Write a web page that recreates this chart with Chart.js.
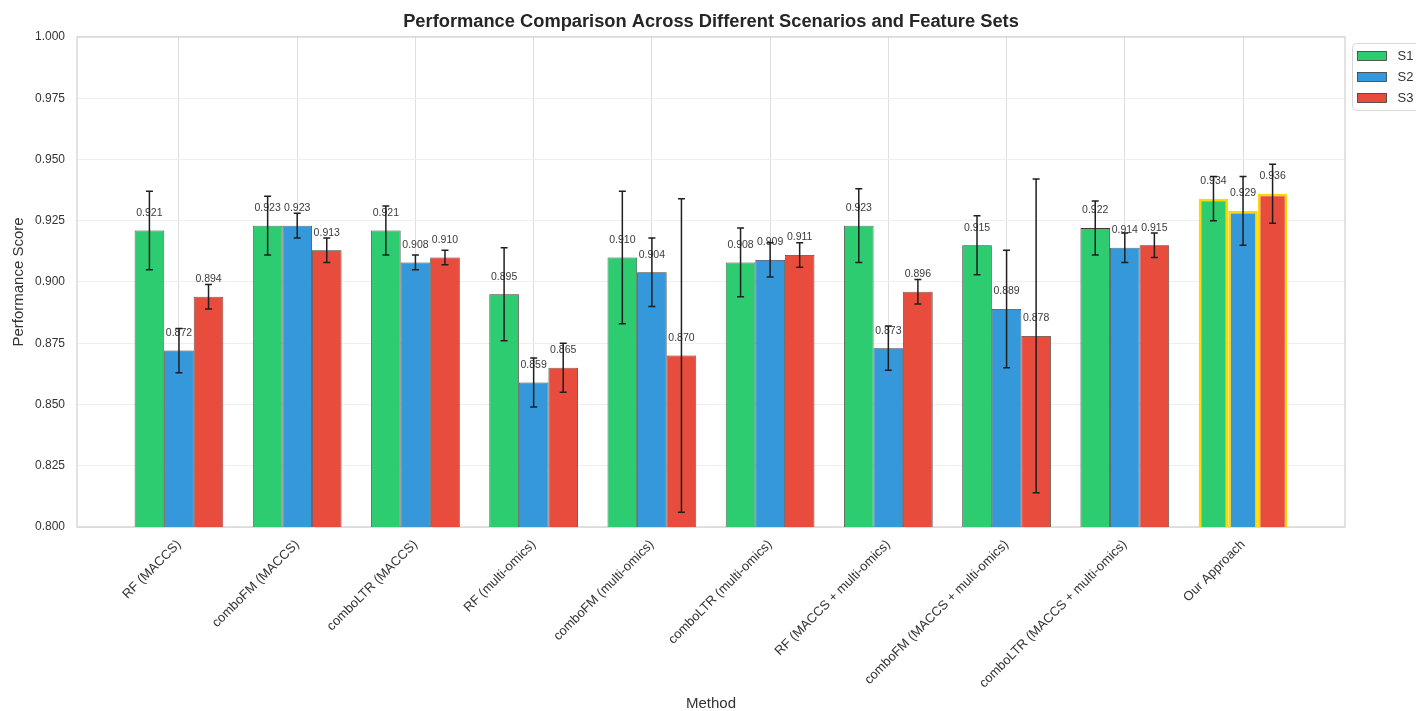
<!DOCTYPE html>
<html>
<head>
<meta charset="utf-8">
<title>Performance Comparison</title>
<script src="https://cdn.jsdelivr.net/npm/chart.js@4/dist/chart.umd.min.js"></script>
<style>
  html, body { margin: 0; padding: 0; background: #ffffff; }
  #wrap { width: 1416px; height: 711px; }
</style>
</head>
<body>
<div id="wrap"><canvas id="chart" width="1416" height="711"></canvas></div>
<script>
// Methods compared on the x axis
const methods = [
  'RF (MACCS)',
  'comboFM (MACCS)',
  'comboLTR (MACCS)',
  'RF (multi-omics)',
  'comboFM (multi-omics)',
  'comboLTR (multi-omics)',
  'RF (MACCS + multi-omics)',
  'comboFM (MACCS + multi-omics)',
  'comboLTR (MACCS + multi-omics)',
  'Our Approach'
];

// Scenario names
const scenarios = ['S1', 'S2', 'S3'];

// Mean performance score per method, one array per scenario
const s1Scores = [0.921, 0.923, 0.921, 0.895, 0.910, 0.908, 0.923, 0.915, 0.922, 0.934];
const s2Scores = [0.872, 0.923, 0.908, 0.859, 0.904, 0.909, 0.873, 0.889, 0.914, 0.929];
const s3Scores = [0.894, 0.913, 0.910, 0.865, 0.870, 0.911, 0.896, 0.878, 0.915, 0.936];

// Standard deviation (half length of each error bar)
const s1Errors = [0.016, 0.012, 0.010, 0.019, 0.027, 0.014, 0.015, 0.012, 0.011, 0.009];
const s2Errors = [0.009, 0.005, 0.003, 0.010, 0.014, 0.007, 0.009, 0.024, 0.006, 0.014];
const s3Errors = [0.005, 0.005, 0.003, 0.010, 0.064, 0.005, 0.005, 0.064, 0.005, 0.012];

// Y axis range and tick step
const yMin = 0.800;
const yMax = 1.000;
const yStep = 0.025;

const scoreSets = [s1Scores, s2Scores, s3Scores];
const errorSets = [s1Errors, s2Errors, s3Errors];
const fillColors = ['#2ecc71', '#3498db', '#e74c3c'];
const highlighted = methods.indexOf('Our Approach');
const FONT = '"Liberation Sans", Arial, "Helvetica Neue", sans-serif';

const datasets = scenarios.map((name, s) => ({
  label: name,
  data: scoreSets[s].map((v, k) => ({ x: k, y: v })),
  errors: errorSets[s],
  backgroundColor: fillColors[s],
  borderColor: scoreSets[s].map((_, k) => k === highlighted ? '#FFD700' : '#3a3a3a'),
  borderWidth: scoreSets[s].map((_, k) => k === highlighted ? 2.6 : 0.8),
  borderSkipped: false,
  categoryPercentage: 0.75,
  barPercentage: 1.0
}));

// Light frame around the plotting area
const framePlugin = {
  id: 'frame',
  beforeDatasetsDraw(chart) {
    const { ctx, chartArea: a } = chart;
    ctx.save();
    ctx.strokeStyle = '#cfcfcf';
    ctx.lineWidth = 1.2;
    ctx.strokeRect(a.left, a.top, a.right - a.left, a.bottom - a.top);
    ctx.restore();
  }
};

// Value labels above each bar, then the error bars with caps
const errorBarPlugin = {
  id: 'errorBars',
  afterDatasetsDraw(chart) {
    const { ctx } = chart;
    const yScale = chart.scales.y;
    ctx.save();
    chart.data.datasets.forEach((ds, di) => {
      const meta = chart.getDatasetMeta(di);
      meta.data.forEach((bar, k) => {
        const v = ds.data[k].y;
        ctx.font = '10.5px ' + FONT;
        ctx.fillStyle = '#3a3a3a';
        ctx.textAlign = 'center';
        ctx.textBaseline = 'bottom';
        ctx.fillText(v.toFixed(3), bar.x, yScale.getPixelForValue(v + 0.005));
      });
    });
    chart.data.datasets.forEach((ds, di) => {
      const meta = chart.getDatasetMeta(di);
      meta.data.forEach((bar, k) => {
        const v = ds.data[k].y;
        const e = ds.errors[k];
        const top = yScale.getPixelForValue(v + e);
        const bot = yScale.getPixelForValue(v - e);
        const cap = 3.5;
        ctx.strokeStyle = '#1f1f1f';
        ctx.lineWidth = 1.5;
        ctx.beginPath();
        ctx.moveTo(bar.x, top); ctx.lineTo(bar.x, bot);
        ctx.moveTo(bar.x - cap, top); ctx.lineTo(bar.x + cap, top);
        ctx.moveTo(bar.x - cap, bot); ctx.lineTo(bar.x + cap, bot);
        ctx.stroke();
      });
    });
    ctx.restore();
  }
};

// Framed legend in the space right of the plot
const sideLegendPlugin = {
  id: 'sideLegend',
  afterDraw(chart) {
    const { ctx, chartArea: a } = chart;
    const x0 = a.right + 7.5;
    const y0 = a.top + 6.5;
    ctx.save();
    ctx.beginPath();
    ctx.roundRect(x0, y0, 90, 67, 4);
    ctx.fillStyle = 'rgba(255,255,255,0.85)';
    ctx.fill();
    ctx.strokeStyle = '#d6d6d6';
    ctx.lineWidth = 1;
    ctx.stroke();
    chart.data.datasets.forEach((ds, i) => {
      const cy = y0 + 12.5 + i * 21;
      ctx.fillStyle = ds.backgroundColor;
      ctx.fillRect(x0 + 5, cy - 4.5, 29, 9);
      ctx.strokeStyle = '#3a3a3a';
      ctx.lineWidth = 0.8;
      ctx.strokeRect(x0 + 5, cy - 4.5, 29, 9);
      ctx.fillStyle = '#333333';
      ctx.font = '13px ' + FONT;
      ctx.textAlign = 'left';
      ctx.textBaseline = 'middle';
      ctx.fillText(ds.label, x0 + 45, cy + 0.5);
    });
    ctx.restore();
  }
};

new Chart(document.getElementById('chart'), {
  type: 'bar',
  data: { datasets },
  options: {
    responsive: false,
    animation: false,
    devicePixelRatio: 1,
    layout: { padding: { left: 6, right: 0, top: 0, bottom: 0 } },
    plugins: {
      legend: { display: false },
      tooltip: { enabled: false },
      title: {
        display: true,
        text: 'Performance Comparison Across Different Scenarios and Feature Sets',
        color: '#262626',
        font: { family: FONT, size: 18.3, weight: 'bold' },
        padding: { top: 11.2, bottom: 3.8 }
      }
    },
    scales: {
      x: {
        type: 'linear',
        offset: false,
        min: -0.8625,
        max: methods.length - 1 + 0.8625,
        afterBuildTicks: (scale) => { scale.ticks = methods.map((_, i) => ({ value: i })); },
        afterFit: (scale) => { scale.height = 184; },
        ticks: {
          autoSkip: false,
          minRotation: 45,
          maxRotation: 45,
          padding: 10,
          color: '#333333',
          font: { family: FONT, size: 13 },
          callback: (value) => methods[value]
        },
        grid: { display: true, color: '#dedede', lineWidth: 1, drawTicks: false, offset: false },
        border: { display: false },
        title: {
          display: true,
          text: 'Method',
          color: '#333333',
          font: { family: FONT, size: 15 },
          padding: { top: 0, bottom: -2 }
        }
      },
      y: {
        min: yMin,
        max: yMax,
        afterFit: (scale) => { scale.width = 71; },
        ticks: {
          stepSize: yStep,
          padding: 12,
          color: '#333333',
          font: { family: FONT, size: 12 },
          callback: (value) => Number(value).toFixed(3)
        },
        grid: { color: '#efefef', lineWidth: 1, drawTicks: false },
        border: { display: false },
        title: {
          display: true,
          text: 'Performance Score',
          color: '#333333',
          font: { family: FONT, size: 15 },
          padding: { top: 4, bottom: 0 }
        }
      },
      legendSpace: {
        type: 'linear',
        position: 'right',
        display: true,
        afterFit: (scale) => { scale.width = 71; },
        ticks: { display: false },
        grid: { display: false, drawTicks: false },
        border: { display: false }
      }
    }
  },
  plugins: [framePlugin, errorBarPlugin, sideLegendPlugin]
});
</script>
</body>
</html>
